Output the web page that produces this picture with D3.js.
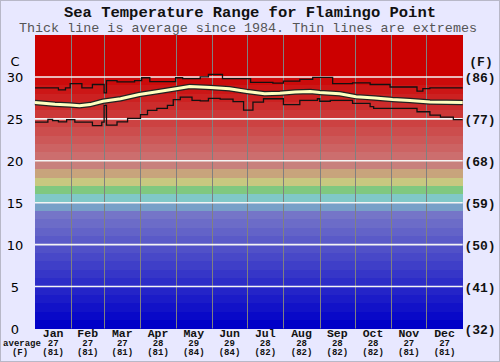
<!DOCTYPE html>
<html>
<head>
<meta charset="utf-8">
<script src="https://cdn.jsdelivr.net/npm/d3@7"></script>
<style>
  body { margin: 0; background: #e8e8ff; }
  svg { display: block; }
</style>
</head>
<body>
<div id="chart"></div>
<script>
// chart data
var title = "Sea Temperature Range for Flamingo Point";
var subtitle = "Thick line is average since 1984. Thin lines are extremes";
var months = ["Jan", "Feb", "Mar", "Apr", "May", "Jun", "Jul", "Aug", "Sep", "Oct", "Nov", "Dec"];
var monthDays = [31, 28, 31, 30, 31, 30, 31, 31, 30, 31, 30, 31];
var monthAvgC = [27, 27, 27, 28, 29, 29, 28, 28, 28, 28, 27, 27];
var monthAvgF = [81, 81, 81, 81, 84, 84, 82, 82, 82, 82, 81, 81];
var ticksC = [0, 5, 10, 15, 20, 25, 30];
var ticksF = ["(32)", "(41)", "(50)", "(59)", "(68)", "(77)", "(86)"];

// [day of year, temp C]
var avgLine = [[0, 26.96], [17, 26.75], [30, 26.64], [38, 26.56], [47, 26.7], [58, 27.1], [73, 27.4],
  [89, 27.9], [107, 28.3], [119, 28.55], [132, 28.85], [150, 28.75], [166, 28.6], [181, 28.25],
  [196, 28.0], [209, 28.05], [222, 28.2], [235, 28.25], [243, 28.15], [260, 28.0], [274, 27.65],
  [290, 27.5], [305, 27.3], [320, 27.2], [337, 27.0], [365, 26.96]];

var maxLine = [[0, 28.7], [20, 28.45], [26, 28.7], [30, 29.2], [40, 28.7], [49, 29.1], [59, 28.1],
  [61, 29.55], [70, 29.4], [85, 29.55], [91, 29.9], [98, 29.45], [120, 29.9], [126, 29.8],
  [141, 30.0], [148, 30.3], [160, 29.8], [184, 29.35], [203, 29.25], [212, 29.5], [226, 29.7],
  [237, 29.95], [254, 29.2], [271, 29.3], [286, 29.1], [303, 28.8], [326, 28.3], [331, 28.6],
  [337, 28.7], [365, 28.7]];

var minLine = [[0, 24.6], [11, 24.95], [15, 24.8], [20, 24.65], [27, 24.9], [34, 24.6], [49, 24.2],
  [57, 24.6], [59, 26.6], [61, 24.25], [70, 24.65], [79, 25.05], [90, 25.5], [96, 26.0],
  [104, 26.25], [113, 26.6], [118, 27.3], [124, 27.6], [134, 27.2], [141, 27.15], [148, 27.45],
  [158, 27.35], [169, 27.05], [178, 26.05], [186, 27.0], [195, 27.4], [212, 26.7], [226, 27.2],
  [241, 27.4], [243, 27.1], [252, 27.2], [271, 26.85], [286, 26.45], [289, 26.25], [326, 25.85],
  [337, 25.45], [346, 25.2], [357, 24.9], [365, 24.9]];

var width = 500, height = 362;
var x = d3.scaleLinear().domain([0, 365]).range([35, 462.7]);
var y = d3.scaleLinear().domain([0, 35]).range([328.5, 35]);

var svg = d3.select("#chart").append("svg")
    .attr("width", width)
    .attr("height", height);

svg.append("rect")
    .attr("x", 0.5).attr("y", 0.5)
    .attr("width", width - 1).attr("height", height - 1)
    .attr("fill", "#e8e8ff")
    .attr("stroke", "#b8b8c8");

// colour band for each degree
function bandColor(t) {
  if (t <= 13) { var v = Math.round(t * 9); return d3.rgb(v, v, 200); }
  if (t == 14) return "#78a0c8";
  if (t == 15) return "#80c8c8";
  if (t == 16) return "#80c880";
  if (t == 17) return "#c8c880";
  if (t == 18) return "#c8a47c";
  if (t == 19) return "#c8807c";
  var g = Math.max(0, (30 - t) * 11);
  return d3.rgb(204, g, g);
}

svg.append("g").selectAll("rect")
    .data(d3.range(0, 35))
  .enter().append("rect")
    .attr("x", x(0))
    .attr("width", x(365) - x(0))
    .attr("y", function(d) { return y(d + 1); })
    .attr("height", function(d) { return y(d) - y(d + 1); })
    .attr("fill", function(d) { return bandColor(d); })
    .attr("shape-rendering", "crispEdges");

// month boundaries
var starts = [0];
monthDays.forEach(function(d, i) { starts.push(starts[i] + d); });

svg.append("g").selectAll("line")
    .data(starts.slice(1, 12))
  .enter().append("line")
    .attr("x1", function(d) { return Math.round(x(d)) + 0.5; })
    .attr("x2", function(d) { return Math.round(x(d)) + 0.5; })
    .attr("y1", y(35))
    .attr("y2", y(0))
    .attr("stroke", "#808080")
    .attr("stroke-width", 1);

// white grid lines
svg.append("g").selectAll("line")
    .data(ticksC.slice(1))
  .enter().append("line")
    .attr("x1", x(0))
    .attr("x2", x(365))
    .attr("y1", function(d) { return y(d); })
    .attr("y2", function(d) { return y(d); })
    .attr("stroke", "#f4f4f4")
    .attr("stroke-width", 1.6);

var step = d3.line()
    .x(function(d) { return x(d[0]); })
    .y(function(d) { return y(d[1]); })
    .curve(d3.curveStepAfter);

var smooth = d3.line()
    .x(function(d) { return x(d[0]); })
    .y(function(d) { return y(d[1]); });

[maxLine, minLine].forEach(function(s) {
  svg.append("path")
      .datum(s)
      .attr("d", step)
      .attr("fill", "none")
      .attr("stroke", "#111")
      .attr("stroke-width", 1.3);
});

svg.append("path")
    .datum(avgLine)
    .attr("d", smooth)
    .attr("fill", "none")
    .attr("stroke", "#222")
    .attr("stroke-width", 5.5);
svg.append("path")
    .datum(avgLine)
    .attr("d", smooth)
    .attr("fill", "none")
    .attr("stroke", "#ffffc0")
    .attr("stroke-width", 3);

// titles
svg.append("text")
    .attr("x", 250).attr("y", 16.5)
    .attr("text-anchor", "middle")
    .style("font", "bold 15.5px 'Liberation Mono', monospace")
    .attr("fill", "#111")
    .text(title);
svg.append("text")
    .attr("x", 248).attr("y", 31.5)
    .attr("text-anchor", "middle")
    .style("font", "13.4px 'Liberation Mono', monospace")
    .attr("fill", "#555")
    .text(subtitle);

// left axis
var left = svg.append("g")
    .style("font", "13px 'DejaVu Sans', sans-serif")
    .attr("fill", "#000")
    .attr("text-anchor", "middle");
left.append("text").attr("x", 15).attr("y", 66).text("C");
left.selectAll("text.tick")
    .data(ticksC)
  .enter().append("text")
    .attr("class", "tick")
    .attr("x", 15)
    .attr("y", function(d) { return y(d) + 5; })
    .text(function(d) { return d; });

// right axis
var right = svg.append("g")
    .style("font", "bold 13px 'Liberation Mono', monospace")
    .attr("fill", "#111")
    .attr("text-anchor", "middle");
right.append("text").attr("x", 481).attr("y", 66).text("(F)");
right.selectAll("text.tick")
    .data(ticksF)
  .enter().append("text")
    .attr("class", "tick")
    .attr("x", 480)
    .attr("y", function(d, i) { return y(ticksC[i]) + 5; })
    .text(function(d) { return d; });

// month labels
var mid = months.map(function(m, i) { return x(starts[i] + monthDays[i] / 2); });
var bottom = svg.append("g").attr("text-anchor", "middle").attr("fill", "#111");
bottom.selectAll("text.month")
    .data(months)
  .enter().append("text")
    .attr("x", function(d, i) { return mid[i]; })
    .attr("y", 337)
    .style("font", "bold 11.5px 'Liberation Mono', monospace")
    .text(function(d) { return d; });
bottom.selectAll("text.avgc")
    .data(monthAvgC)
  .enter().append("text")
    .attr("x", function(d, i) { return mid[i]; })
    .attr("y", 346)
    .style("font", "bold 9px 'Liberation Mono', monospace")
    .text(function(d) { return d; });
bottom.selectAll("text.avgf")
    .data(monthAvgF)
  .enter().append("text")
    .attr("x", function(d, i) { return mid[i]; })
    .attr("y", 355)
    .style("font", "bold 9px 'Liberation Mono', monospace")
    .text(function(d) { return "(" + d + ")"; });
bottom.append("text")
    .attr("x", 22).attr("y", 345.5)
    .style("font", "bold 9px 'Liberation Mono', monospace")
    .text("average");
bottom.append("text")
    .attr("x", 20).attr("y", 355)
    .style("font", "bold 9px 'Liberation Mono', monospace")
    .text("(F)");
</script>
</body>
</html>
